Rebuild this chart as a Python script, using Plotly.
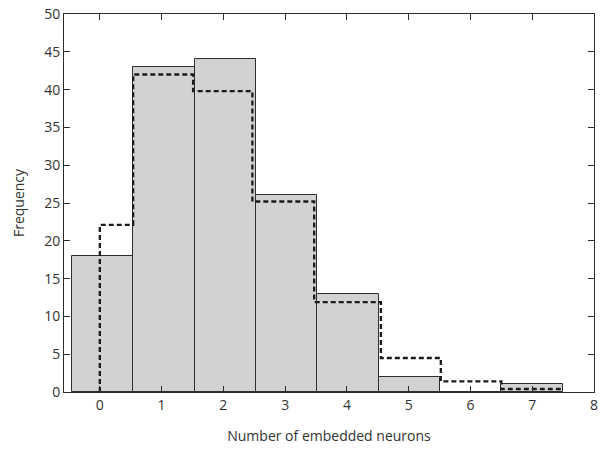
import plotly.graph_objects as go

# Histogram of embedded-neuron counts with a fitted distribution overlay
bin_left = -0.45
bin_width = 0.9925
counts = [18, 43, 44, 26, 13, 2, 0, 1]

fit_edges = [0, 0.54, 1.51, 2.47, 3.47, 4.55, 5.52, 6.50, 7.48]
fit_values = [22.1, 42.0, 39.8, 25.2, 11.9, 4.5, 1.4, 0.4]

x_ticks = list(range(0, 9))
y_ticks = list(range(0, 51, 5))

centers = [bin_left + bin_width * (i + 0.5) for i in range(len(counts))]

# stair path for the fitted curve
stair_x = [fit_edges[0]] + fit_edges[:-1] + [fit_edges[-1]]
stair_y = [0] + fit_values + [fit_values[-1]]

AX = "#2b2b2b"
TXT = "#333333"
FONT = "Open Sans, Lato, sans-serif"

fig = go.Figure()
fig.add_trace(go.Bar(
    x=centers, y=counts, width=bin_width,
    marker=dict(color="#d1d2d4", line=dict(color="#2e2e2e", width=1)),
    showlegend=False,
))
fig.add_trace(go.Scatter(
    x=stair_x, y=stair_y, mode="lines",
    line=dict(color="#1a1a1a", width=2.3, dash="5px,3px", shape="hv"),
    showlegend=False,
))

fig.update_layout(
    width=603, height=453,
    margin=dict(l=64, r=9, t=14, b=61),
    paper_bgcolor="white", plot_bgcolor="white",
    font=dict(family=FONT, size=14, color=TXT),
    bargap=0,
)
fig.update_xaxes(
    range=[-0.58, 8.0], tickvals=x_ticks, ticktext=[str(v) for v in x_ticks],
    ticks="inside", ticklen=6, tickwidth=1, tickcolor=AX,
    showline=True, linecolor=AX, linewidth=1, mirror="ticks",
    showgrid=False, zeroline=False, automargin=False,
    title=dict(text="Number of embedded neurons", standoff=18,
               font=dict(size=14, color=TXT)),
    tickfont=dict(size=14, color=TXT),
)
fig.update_yaxes(
    range=[0, 50], tickvals=y_ticks, ticktext=[str(v) for v in y_ticks],
    ticks="inside", ticklen=6, tickwidth=1, tickcolor=AX,
    showline=True, linecolor=AX, linewidth=1, mirror="ticks",
    showgrid=False, zeroline=False, automargin=False,
    title=dict(text="Frequency", standoff=16,
               font=dict(size=14, color=TXT)),
    tickfont=dict(size=14, color=TXT),
)

fig.write_html("out.html")
